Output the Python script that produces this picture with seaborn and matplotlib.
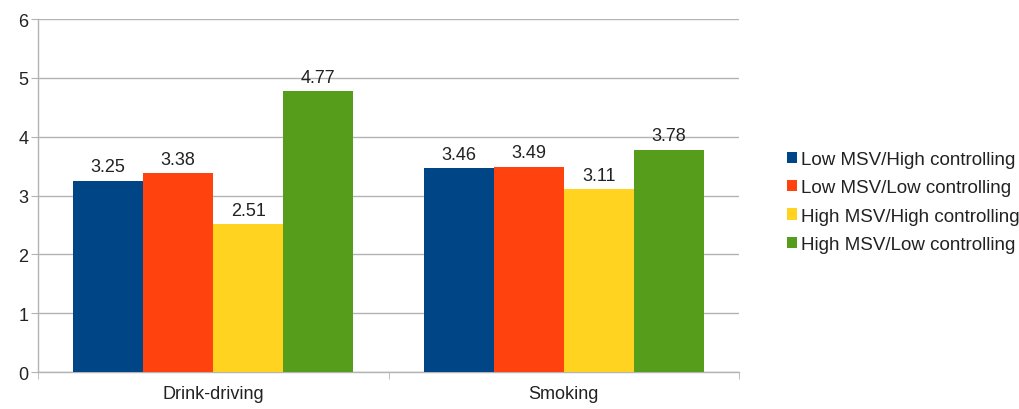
import numpy as np
import pandas as pd
import matplotlib
matplotlib.use("Agg")
import matplotlib.pyplot as plt
import seaborn as sns

categories = ["Drink-driving", "Smoking"]
groups = ["Low MSV/High controlling", "Low MSV/Low controlling",
          "High MSV/High controlling", "High MSV/Low controlling"]
low_msv_high_ctrl = [3.25, 3.46]
low_msv_low_ctrl = [3.38, 3.49]
high_msv_high_ctrl = [2.51, 3.11]
high_msv_low_ctrl = [4.77, 3.78]
colors = ["#004586", "#ff420e", "#ffd320", "#579d1c"]

series = [low_msv_high_ctrl, low_msv_low_ctrl, high_msv_high_ctrl, high_msv_low_ctrl]
rows = []
for g, vals in zip(groups, series):
    for c, v in zip(categories, vals):
        rows.append({"category": c, "group": g, "value": v})
df = pd.DataFrame(rows)

sns.set_style("white")
plt.rcParams['font.family'] = ['Liberation Sans', 'DejaVu Sans']

fig = plt.figure(figsize=(10.2, 4.1), dpi=100)
ax = fig.add_axes([0.0373, 0.0902, 0.6872, 0.8608])

sns.barplot(data=df, x="category", y="value", hue="group", hue_order=groups,
            palette=colors, saturation=1, width=0.8, ax=ax, zorder=3,
            edgecolor="none", linewidth=0)

for cont in ax.containers:
    ax.bar_label(cont, fmt="%.2f", padding=4, fontsize=13, color="#222222")

ax.set_ylim(0, 6)
ax.set_xlim(-0.5, 1.5)
ax.set_yticks(range(0, 7))
ax.yaxis.grid(True, color="#b3b3b3", linewidth=1, zorder=0)
ax.set_axisbelow(True)
ax.set_xlabel("")
ax.set_ylabel("")

for s in ["top", "right"]:
    ax.spines[s].set_visible(False)
for s in ["left", "bottom"]:
    ax.spines[s].set_color("#b3b3b3")
    ax.spines[s].set_linewidth(1)

ax.tick_params(axis="y", which="major", length=5, color="#b3b3b3",
               labelsize=13, labelcolor="#222222", pad=2, left=True)
ax.tick_params(axis="x", which="major", length=0, labelsize=13,
               labelcolor="#222222", pad=9)
ax.set_xticks([-0.5, 0.5, 1.5], minor=True)
ax.tick_params(axis="x", which="minor", length=5, color="#b3b3b3", bottom=True)

ax.legend_.remove()
handles, labels = ax.get_legend_handles_labels()
fig.legend(handles, labels, loc="center left", bbox_to_anchor=(0.755, 0.505),
           frameon=False, fontsize=13.5, handlelength=0.55, handleheight=0.55,
           handletextpad=0.2, labelspacing=0.6, labelcolor="#222222")

fig.savefig("out.png", dpi=100)
